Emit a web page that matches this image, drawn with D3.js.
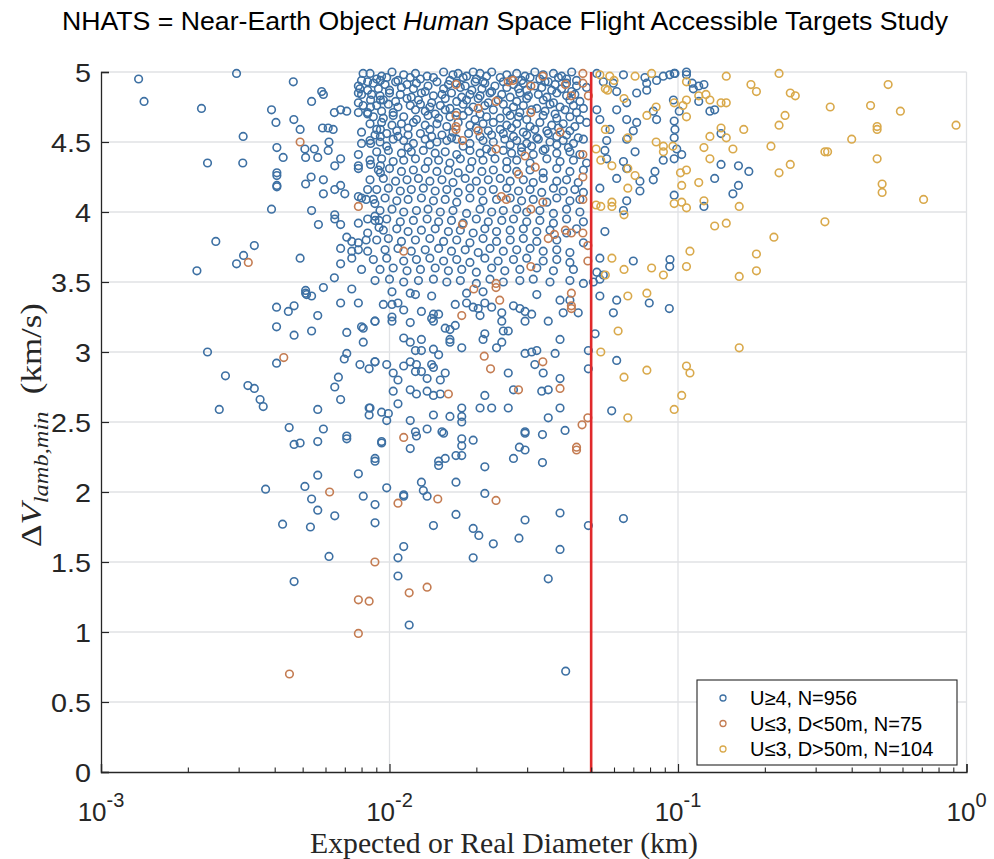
<!DOCTYPE html>
<html>
<head>
<meta charset="utf-8">
<script src="https://cdn.jsdelivr.net/npm/d3@7"></script>
<style>
  body { margin: 0; background: #fff; }
  svg { display: block; }
</style>
</head>
<body>
<svg id="chart" width="994" height="859"></svg>
<script>
// U>=4 targets: [diameter km, dV km/s]
const blue = [
  [0.00135,4.95],[0.00141,4.79],[0.00295,4.99],[0.00223,4.74],[0.00464,4.93],[0.0039,4.73],[0.00404,4.64],[0.00537,4.79],
  [0.00582,4.86],[0.0059,4.84],[0.00466,4.66],[0.0049,4.59],[0.00311,4.54],[0.00234,4.35],[0.0031,4.35],[0.00407,4.46],
  [0.00428,4.39],[0.00407,4.28],[0.00407,4.26],[0.00407,4.19],[0.00407,4.18],[0.0039,4.02],[0.0025,3.79],[0.0034,3.76],
  [0.00312,3.69],[0.00295,3.63],[0.00215,3.58],[0.0049,3.67],[0.00509,4.45],[0.00549,4.45],[0.00512,4.39],[0.00564,4.39],
  [0.00617,4.5],[0.00613,4.44],[0.00586,4.6],[0.00613,4.6],[0.00638,4.59],[0.00644,4.71],[0.00677,4.73],[0.00711,4.72],
  [0.00646,4.33],[0.00677,4.38],[0.00512,4.2],[0.00535,4.25],[0.0059,4.23],[0.0059,4.13],[0.00646,4.16],[0.00677,4.19],
  [0.007,4.13],[0.00537,4.01],[0.00567,3.91],[0.00646,3.98],[0.00646,3.95],[0.00677,3.91],[0.00711,3.82],[0.0074,3.79],
  [0.00677,3.74],[0.00677,3.63],[0.0074,3.72],[0.0074,3.67],[0.00644,3.53],[0.0059,3.46],[0.00512,3.44],[0.00512,3.42],
  [0.0074,3.45],
  [0.0081,4.99],[0.008,4.94],[0.0084,4.93],[0.0078,4.9],[0.0079,4.88],[0.0084,4.87],[0.0078,4.85],[0.008,4.84],
  [0.0086,4.8],[0.0078,4.78],[0.0081,4.76],[0.0086,4.75],[0.0078,4.71],[0.0084,4.71],[0.0084,4.7],[0.0093,4.94],
  [0.0093,4.8],[0.0078,4.41],[0.0078,4.33],[0.0078,4.31],[0.0086,4.34],[0.008,4.57],[0.008,4.49],[0.0086,4.49],
  [0.0093,4.59],[0.0093,4.54],[0.0093,4.33],[0.0093,4.28],[0.0084,4.16],[0.0078,4.11],[0.008,4.1],[0.0083,4.09],
  [0.0089,4.06],[0.0084,3.95],[0.0089,3.97],[0.0092,3.94],[0.0092,3.89],[0.0084,3.85],[0.0083,3.8],[0.0084,3.72],
  [0.008,3.59],[0.0078,3.92],[0.0078,3.78],[0.0078,3.73],
  [0.00856,4.99],[0.00939,4.97],[0.0102,5],[0.0112,4.98],[0.0123,4.99],[0.0135,4.97],[0.0154,5],[0.0166,4.98],
  [0.0173,4.99],[0.0185,4.97],[0.0195,5],[0.0206,4.99],[0.0217,4.97],[0.0226,5],[0.0255,4.98],[0.0276,4.99],
  [0.0295,4.97],[0.0319,5],[0.0341,4.98],[0.037,4.99],[0.0395,4.97],[0.0428,5],[0.0523,4.99],[0.0647,4.98],
  [0.0768,4.96],[0.0889,4.97],[0.0976,4.99],
  [0.00903,4.95],[0.00978,4.96],[0.0107,4.94],[0.0118,4.96],[0.0128,4.95],[0.0142,4.96],[0.0162,4.94],[0.018,4.96],
  [0.02,4.95],[0.0211,4.93],[0.0242,4.96],[0.0265,4.95],[0.0287,4.94],[0.0307,4.96],[0.0332,4.95],[0.0355,4.93],
  [0.0385,4.96],[0.0411,4.95],[0.0445,4.94],
  [0.00879,4.92],[0.00965,4.91],[0.0105,4.93],[0.0115,4.91],[0.0124,4.92],[0.0136,4.9],[0.0146,4.93],[0.016,4.91],
  [0.0171,4.92],[0.0183,4.9],[0.0198,4.93],[0.0214,4.92],[0.0232,4.9],[0.0248,4.93],[0.0269,4.91],[0.0291,4.92],
  [0.0319,4.9],[0.0346,4.93],[0.0375,4.91],[0.0411,4.92],[0.0445,4.9],[0.0551,4.93],[0.0597,4.92],[0.0779,4.92],
  [0.0843,4.94],
  [0.00915,4.88],[0.01,4.87],[0.011,4.89],[0.0121,4.88],[0.0133,4.86],[0.0154,4.88],[0.0176,4.89],[0.0193,4.87],
  [0.0209,4.88],[0.0226,4.86],[0.0255,4.89],[0.028,4.88],[0.0299,4.87],[0.0337,4.89],[0.0365,4.87],[0.0395,4.88],
  [0.0428,4.86],[0.0482,4.89],
  [0.00867,4.84],[0.00927,4.83],[0.01,4.85],[0.0109,4.84],[0.0119,4.82],[0.0129,4.85],[0.0142,4.83],[0.0152,4.84],
  [0.0164,4.85],[0.0178,4.82],[0.019,4.84],[0.0206,4.83],[0.0223,4.85],[0.0245,4.84],[0.0262,4.82],[0.0283,4.85],
  [0.0303,4.83],[0.0328,4.84],[0.0351,4.82],[0.038,4.85],[0.0411,4.83],[0.0439,4.84],[0.0613,4.86],[0.0719,4.85],
  [0.0779,4.87],
  [0.00952,4.8],[0.0105,4.79],[0.0115,4.81],[0.0126,4.8],[0.014,4.78],[0.0156,4.81],[0.0171,4.79],[0.0185,4.8],
  [0.0203,4.81],[0.022,4.78],[0.0238,4.8],[0.0276,4.79],[0.0299,4.81],[0.0341,4.8],[0.037,4.78],[0.0422,4.8],
  [0.0457,4.79],
  [0.00903,4.76],[0.00991,4.77],[0.0107,4.75],[0.0118,4.76],[0.0128,4.77],[0.0138,4.75],[0.015,4.76],[0.0162,4.74],
  [0.018,4.77],[0.0195,4.75],[0.0214,4.76],[0.0248,4.77],[0.0269,4.75],[0.0291,4.76],[0.0324,4.74],[0.036,4.77],
  [0.039,4.75],[0.0434,4.76],[0.047,4.74],[0.0664,4.78],[0.0964,4.8],
  [0.00939,4.72],[0.0103,4.71],[0.0123,4.73],[0.0133,4.72],[0.0144,4.7],[0.0156,4.73],[0.0171,4.71],[0.0188,4.72],
  [0.0206,4.7],[0.0229,4.73],[0.0255,4.72],[0.0283,4.71],[0.0311,4.73],[0.0346,4.72],[0.0375,4.7],[0.0406,4.73],
  [0.0445,4.71],
  [0.00879,4.68],[0.00952,4.67],[0.0103,4.69],[0.0112,4.68],[0.0124,4.66],[0.0136,4.69],[0.0148,4.67],[0.0162,4.68],
  [0.018,4.69],[0.0198,4.66],[0.0217,4.68],[0.0242,4.67],[0.0262,4.69],[0.028,4.68],[0.0299,4.66],[0.0341,4.69],
  [0.038,4.67],[0.0422,4.68],[0.0457,4.66],[0.0523,4.73],[0.0613,4.73],[0.0821,4.72],
  [0.00856,4.63],[0.00939,4.64],[0.0102,4.62],[0.011,4.63],[0.0121,4.64],[0.0133,4.62],[0.0146,4.63],[0.0158,4.61],
  [0.0173,4.64],[0.019,4.62],[0.0211,4.63],[0.0229,4.64],[0.0255,4.62],[0.0276,4.63],[0.0307,4.61],[0.0332,4.64],
  [0.0365,4.62],[0.04,4.63],[0.0439,4.61],[0.0482,4.64],[0.0536,4.66],[0.0664,4.66],[0.0719,4.64],[0.0843,4.66],
  [0.00903,4.59],[0.0106,4.58],[0.0116,4.6],[0.0138,4.59],[0.0166,4.57],[0.02,4.6],[0.022,4.58],[0.0242,4.59],
  [0.0265,4.6],[0.0291,4.57],[0.0319,4.59],[0.0351,4.58],[0.0385,4.6],[0.0422,4.58],
  [0.00891,4.55],[0.00978,4.56],[0.0107,4.54],[0.0116,4.55],[0.0128,4.56],[0.014,4.54],[0.0152,4.55],[0.0164,4.53],
  [0.0188,4.56],[0.0206,4.54],[0.0226,4.55],[0.0248,4.56],[0.0269,4.54],[0.0299,4.55],[0.0324,4.53],[0.0355,4.56],
  [0.038,4.54],[0.0411,4.55],[0.0451,4.53],[0.0581,4.59],[0.07,4.58],[0.0976,4.59],
  [0.00856,4.51],[0.00927,4.5],[0.0103,4.52],[0.0112,4.51],[0.0121,4.49],[0.0133,4.52],[0.0146,4.5],[0.0158,4.51],
  [0.0171,4.52],[0.019,4.49],[0.0211,4.51],[0.0229,4.5],[0.0251,4.52],[0.0276,4.51],[0.0299,4.49],[0.0328,4.52],
  [0.036,4.5],[0.04,4.51],[0.0434,4.49],[0.047,4.52],[0.0566,4.51],[0.0664,4.52],
  [0.00978,4.47],[0.0116,4.46],[0.0138,4.48],[0.018,4.47],[0.0217,4.45],[0.0262,4.48],[0.0287,4.46],[0.0311,4.47],
  [0.0346,4.45],[0.038,4.48],[0.0417,4.46],
  [0.00903,4.43],[0.00991,4.44],[0.011,4.42],[0.0119,4.43],[0.0131,4.44],[0.0144,4.42],[0.0156,4.43],[0.0171,4.41],
  [0.019,4.44],[0.0206,4.42],[0.0226,4.43],[0.0248,4.44],[0.0265,4.42],[0.0287,4.43],[0.0315,4.41],[0.0341,4.44],
  [0.038,4.42],[0.0422,4.43],[0.0457,4.41],[0.0558,4.44],[0.071,4.43],[0.099,4.45],
  [0.00856,4.37],[0.00939,4.38],[0.0103,4.36],[0.0112,4.37],[0.0123,4.38],[0.0136,4.36],[0.0148,4.37],[0.0162,4.35],
  [0.0176,4.38],[0.0193,4.36],[0.0211,4.37],[0.0232,4.38],[0.0255,4.36],[0.0276,4.37],[0.0307,4.35],[0.0351,4.38],
  [0.039,4.36],[0.0434,4.37],[0.0482,4.35],[0.0566,4.38],[0.0647,4.36],[0.0889,4.37],
  [0.00915,4.3],[0.01,4.31],[0.011,4.29],[0.0121,4.3],[0.0133,4.31],[0.0146,4.29],[0.016,4.3],[0.0173,4.28],
  [0.019,4.31],[0.0209,4.29],[0.0229,4.3],[0.0255,4.31],[0.0276,4.29],[0.0307,4.3],[0.0341,4.28],[0.038,4.31],
  [0.0422,4.29],[0.047,4.3],[0.0664,4.31],[0.0832,4.29],
  [0.00856,4.23],[0.00952,4.24],[0.0105,4.22],[0.0115,4.23],[0.0126,4.24],[0.0138,4.22],[0.0152,4.23],[0.0166,4.21],
  [0.0183,4.24],[0.02,4.22],[0.022,4.23],[0.0242,4.24],[0.0262,4.22],[0.0291,4.23],[0.0315,4.21],[0.0341,4.24],
  [0.038,4.22],[0.0411,4.23],[0.0451,4.21],[0.0613,4.24],[0.0738,4.22],[0.0821,4.23],
  [0.00903,4.16],[0.00991,4.17],[0.0109,4.15],[0.0119,4.16],[0.0131,4.17],[0.0144,4.15],[0.0158,4.16],[0.0173,4.14],
  [0.019,4.17],[0.0209,4.15],[0.0229,4.16],[0.0255,4.17],[0.028,4.15],[0.0307,4.16],[0.0337,4.14],[0.037,4.17],
  [0.04,4.15],[0.0439,4.16],[0.047,4.14],[0.0536,4.17],[0.0738,4.15],
  [0.00879,4.09],[0.00965,4.1],[0.0106,4.08],[0.0116,4.09],[0.0129,4.1],[0.0142,4.08],[0.0156,4.09],[0.0171,4.07],
  [0.019,4.1],[0.0211,4.08],[0.0235,4.09],[0.0262,4.1],[0.0287,4.08],[0.0315,4.09],[0.0351,4.07],[0.038,4.1],
  [0.0422,4.08],[0.0457,4.09],[0.0664,4.08],
  [0.00927,4.01],[0.0102,4.02],[0.0112,4],[0.0124,4.01],[0.0136,4.02],[0.015,4],[0.0166,4.01],[0.0185,3.99],
  [0.0206,4.02],[0.0226,4],[0.0248,4.01],[0.0276,4.02],[0.0299,4],[0.0332,4.01],[0.037,3.99],[0.0411,4.02],
  [0.0457,4],[0.0647,4.01],
  [0.00891,3.94],[0.00978,3.95],[0.0109,3.93],[0.0121,3.94],[0.0135,3.95],[0.0148,3.93],[0.0164,3.94],[0.018,3.92],
  [0.02,3.95],[0.022,3.93],[0.0245,3.94],[0.0269,3.95],[0.0299,3.93],[0.0332,3.94],[0.037,3.92],[0.0411,3.95],
  [0.047,3.93],
  [0.00952,3.87],[0.0106,3.88],[0.0116,3.86],[0.0129,3.87],[0.0144,3.88],[0.016,3.86],[0.0176,3.87],[0.0195,3.85],
  [0.0214,3.88],[0.0235,3.86],[0.0262,3.87],[0.0291,3.88],[0.0324,3.86],[0.036,3.87],[0.0411,3.85],[0.0445,3.88],
  [0.0558,3.86],
  [0.00903,3.8],[0.00991,3.81],[0.011,3.79],[0.0123,3.8],[0.0138,3.81],[0.0154,3.79],[0.0171,3.8],[0.019,3.78],
  [0.0211,3.81],[0.0235,3.79],[0.0262,3.8],[0.0291,3.81],[0.0324,3.79],[0.038,3.8],[0.047,3.78],
  [0.00965,3.73],[0.0107,3.74],[0.0119,3.72],[0.0133,3.73],[0.0148,3.74],[0.0164,3.72],[0.0183,3.73],[0.0203,3.71],
  [0.0223,3.74],[0.0248,3.72],[0.0276,3.73],[0.0307,3.74],[0.0341,3.72],[0.038,3.73],[0.0422,3.71],
  [0.00879,3.66],[0.00978,3.67],[0.0112,3.65],[0.0124,3.66],[0.0138,3.67],[0.0154,3.65],[0.0171,3.66],[0.019,3.64],
  [0.0214,3.67],[0.0238,3.65],[0.0269,3.66],[0.0299,3.67],[0.0341,3.65],[0.038,3.66],[0.0422,3.64],[0.0536,3.67],
  [0.07,3.65],[0.0938,3.66],
  [0.00927,3.59],[0.0103,3.6],[0.0115,3.58],[0.0128,3.59],[0.0144,3.6],[0.016,3.58],[0.0178,3.59],[0.02,3.57],
  [0.0226,3.6],[0.0251,3.58],[0.0283,3.59],[0.0324,3.6],[0.037,3.58],[0.0434,3.59],[0.0523,3.57],[0.0551,3.55],
  [0.00891,3.51],[0.01,3.52],[0.0112,3.5],[0.0126,3.51],[0.0142,3.52],[0.0158,3.5],[0.0176,3.51],[0.02,3.49],
  [0.0223,3.52],[0.0248,3.5],[0.0283,3.51],[0.0315,3.52],[0.036,3.5],[0.0422,3.51],[0.047,3.49],[0.0509,3.5],
  [0.0536,3.52],
  [0.0102,3.43],[0.0118,3.42],[0.0123,3.41],[0.014,3.4],[0.0185,3.42],[0.0211,3.43],[0.0324,3.41],[0.039,3.37],
  [0.0422,3.37],[0.0536,3.4],[0.0613,3.37],[0.00952,3.34],[0.0102,3.34],[0.0107,3.35],[0.0112,3.3],[0.0129,3.29],
  [0.0142,3.27],[0.0148,3.27],[0.0169,3.34],[0.0185,3.35],[0.0195,3.32],[0.0203,3.31],[0.0214,3.35],[0.0226,3.32],
  [0.0245,3.28],[0.0269,3.33],[0.0283,3.31],[0.0295,3.29],[0.0311,3.27],[0.04,3.28],[0.0451,3.28],[0.0597,3.28],
  [0.0795,3.35],[0.0933,3.31],[0.00891,3.22],[0.0102,3.25],[0.0102,3.22],[0.0118,3.21],[0.014,3.24],[0.0142,3.22],
  [0.0169,3.19],[0.0206,3.26],[0.0245,3.22],[0.0295,3.22],[0.0355,3.22],[0.0156,3.17],[0.0162,3.16],[0.0214,3.13],
  [0.0248,3.15],[0.0258,3.15],[0.0245,3.07],[0.0516,3.13],[0.0112,3.1],[0.0118,3.07],[0.0129,3.09],[0.0162,3.09],
  [0.0162,3.07],[0.0178,3.03],[0.0211,3.09],[0.0235,3.03],[0.039,3.09],[0.0123,3.01],[0.0129,3.01],[0.0142,3.02],
  [0.0148,2.98],[0.0295,2.99],[0.0311,3],[0.0324,3.01],[0.0375,2.99],[0.0489,3.01],[0.00891,2.93],[0.00978,2.91],
  [0.0112,2.9],[0.0118,2.93],[0.0124,2.91],[0.014,2.91],[0.0142,2.89],[0.0156,2.85],[0.0258,2.85],[0.0319,2.91],
  [0.0341,2.85],[0.0489,2.88],[0.0613,2.94],[0.0103,2.85],[0.0107,2.8],[0.0123,2.86],[0.0129,2.86],[0.0135,2.81],
  [0.015,2.8],[0.039,2.81],[0.0103,2.72],[0.0118,2.73],[0.0124,2.7],[0.0135,2.72],[0.0142,2.69],[0.015,2.7],
  [0.0214,2.69],[0.0269,2.73],[0.0337,2.72],[0.0355,2.73],[0.0107,2.63],[0.0178,2.6],[0.0206,2.6],[0.0226,2.6],
  [0.0258,2.6],[0.039,2.6],[0.0589,2.58],[0.00856,2.6],[0.00939,2.57],[0.00991,2.56],[0.0142,2.55],[0.00978,2.51],
  [0.0118,2.51],[0.0162,2.54],[0.0178,2.54],[0.0178,2.5],[0.0355,2.53],[0.0123,2.43],[0.0124,2.4],[0.0135,2.45],
  [0.0152,2.43],[0.0154,2.42],[0.0195,2.37],[0.0178,2.38],[0.0295,2.43],[0.0295,2.42],[0.0339,2.41],[0.0406,2.44],
  [0.00939,2.36],[0.00939,2.35],[0.0118,2.31],[0.0178,2.33],[0.0282,2.32],[0.0295,2.3],[0.00891,2.24],[0.00891,2.22],
  [0.0148,2.22],[0.0148,2.19],[0.0156,2.24],[0.017,2.26],[0.0178,2.26],[0.0214,2.18],[0.0269,2.24],[0.0339,2.21],
  [0.0129,2.07],[0.00978,2.03],[0.0112,1.98],[0.0112,1.97],[0.0131,2.01],[0.0135,1.97],[0.017,2.07],[0.0214,1.99],
  [0.00891,1.91],[0.00891,1.78],[0.0142,1.76],[0.017,1.84],[0.0195,1.74],[0.0295,1.8],[0.039,1.85],[0.0489,1.76],
  [0.0647,1.81],
  [0.0204,1.69],[0.0229,1.63],[0.0281,1.67],[0.039,1.59],[0.0107,1.53],[0.0112,1.61],[0.0195,1.53],[0.0107,1.4],
  [0.0355,1.38],[0.0117,1.05],[0.0408,0.72],
  [0.00516,3.41],[0.00537,3.4],[0.00677,3.35],[0.0078,3.35],[0.00406,3.32],[0.00446,3.29],[0.00467,3.33],[0.00564,3.26],
  [0.00406,3.18],[0.00467,3.12],[0.00537,3.15],[0.00711,3.14],[0.008,3.18],[0.00811,3.17],[0.00811,3.07],[0.0089,3.22],
  [0.00234,3],[0.00406,2.92],[0.00711,2.99],[0.00697,2.95],[0.0079,2.91],[0.0085,2.88],[0.0089,2.93],[0.0027,2.83],
  [0.00323,2.76],[0.0034,2.74],[0.00356,2.66],[0.00365,2.61],[0.00257,2.59],[0.00665,2.82],[0.00646,2.75],[0.00677,2.66],
  [0.00564,2.59],[0.0085,2.6],[0.0085,2.55],[0.00449,2.46],[0.0059,2.45],[0.00467,2.34],[0.0049,2.35],[0.00564,2.36],
  [0.00711,2.4],[0.00711,2.38],[0.00372,2.02],[0.00509,2.04],[0.00564,2.12],[0.0078,2.13],[0.00537,1.95],[0.00564,1.87],
  [0.00646,1.83],[0.00811,1.97],[0.00426,1.77],[0.00532,1.75],[0.00617,1.54],[0.00467,1.36],
  [0.0936,4.98],[0.097,4.99],[0.107,5],[0.107,4.98],[0.112,4.92],[0.118,4.9],[0.123,4.91],[0.113,4.88],
  [0.118,4.79],[0.101,4.72],[0.129,4.72],[0.134,4.73],[0.097,4.65],[0.097,4.53],[0.141,4.56],[0.103,4.41],
  [0.097,4.38],[0.141,4.34],[0.162,4.33],[0.176,4.29],[0.134,4.24],[0.162,4.19],[0.155,4.13],[0.097,4.12],
  [0.123,4.04],[0.0936,3.61]
];

// U<=3, D<50 m
const orange = [
  [0.0049,4.5],[0.00324,3.64],[0.0078,4.04],[0.017,4.91],[0.0258,4.93],[0.0268,4.94],[0.0309,4.9],[0.034,4.97],
  [0.0407,4.91],[0.0468,4.99],[0.0468,4.92],[0.0427,4.83],[0.0489,4.83],[0.0234,4.79],[0.0203,4.74],[0.0309,4.71],
  [0.017,4.69],[0.017,4.61],[0.017,4.59],[0.0203,4.58],[0.039,4.57],[0.0179,4.51],[0.0234,4.45],[0.0295,4.4],
  [0.032,4.32],[0.028,4.27],[0.0468,4.41],[0.0468,4.25],[0.0468,4.09],[0.0244,4.11],[0.0254,4.09],[0.034,4.07],
  [0.0309,4.02],[0.0179,3.91],[0.0355,3.81],[0.0373,3.84],[0.0407,3.87],[0.0427,3.85],[0.0468,3.85],[0.0487,3.76],
  [0.0487,3.65],[0.0112,3.72],[0.0309,3.61],[0.0196,3.45],[0.0234,3.49],[0.0234,3.46],[0.0427,3.42],[0.0427,3.33],
  [0.0427,3.31],[0.0241,3.37],[0.0178,3.26],[0.0213,2.97],[0.0224,2.88],[0.034,2.93],[0.016,2.7],[0.028,2.73],
  [0.039,2.74],[0.0487,2.53],[0.0465,2.48],[0.0112,2.39],[0.0445,2.32],[0.0445,2.3],[0.0107,1.92],[0.0147,1.95],
  [0.0234,1.94],[0.0043,2.96],[0.0062,2],[0.0089,1.5],[0.0078,1.23],[0.0085,1.22],[0.0078,0.99],[0.0045,0.7],
  [0.0117,1.28],[0.0135,1.32]
];

// U<=3, D>50 m
const yellow = [
  [0.0536,4.98],[0.058,4.97],[0.06,4.94],[0.056,4.88],[0.057,4.87],[0.071,4.97],[0.081,4.99],[0.065,4.81],
  [0.097,4.78],[0.078,4.69],[0.084,4.75],[0.056,4.59],[0.067,4.53],[0.084,4.5],[0.089,4.47],[0.096,4.47],
  [0.089,4.43],[0.052,4.45],[0.054,4.37],[0.059,4.33],[0.067,4.31],[0.071,4.26],[0.067,4.17],[0.052,4.05],
  [0.054,4.04],[0.059,4.07],[0.059,4.04],[0.065,3.98],[0.059,3.67],[0.056,3.55],[0.065,3.59],[0.081,3.6],
  [0.089,3.55],[0.078,3.42],[0.067,3.4],[0.107,4.93],[0.147,4.97],[0.224,4.99],[0.179,4.91],[0.187,4.86],
  [0.535,4.91],[0.245,4.85],[0.255,4.83],[0.104,4.76],[0.107,4.8],[0.118,4.83],[0.125,4.84],[0.129,4.8],
  [0.141,4.78],[0.147,4.78],[0.337,4.75],[0.465,4.76],[0.59,4.72],[0.235,4.69],[0.107,4.68],[0.224,4.62],
  [0.141,4.6],[0.169,4.59],[0.49,4.61],[0.49,4.59],[0.92,4.62],[0.129,4.54],[0.147,4.53],[0.4,4.52],
  [0.123,4.46],[0.155,4.45],[0.21,4.47],[0.323,4.43],[0.33,4.43],[0.129,4.38],[0.49,4.38],[0.102,4.28],
  [0.107,4.3],[0.118,4.21],[0.224,4.28],[0.245,4.34],[0.51,4.2],[0.51,4.14],[0.103,4.19],[0.71,4.09],
  [0.097,4.06],[0.103,4.07],[0.107,4.03],[0.123,4.08],[0.163,4.04],[0.323,3.93],[0.134,3.9],[0.147,3.92],
  [0.215,3.82],[0.11,3.72],[0.187,3.7],[0.107,3.61],[0.163,3.54],[0.187,3.58],[0.163,3.03],[0.107,2.9],
  [0.11,2.85],[0.103,2.69],[0.097,2.59],[0.062,3.15],[0.054,3],[0.078,2.87],[0.065,2.82],[0.067,2.53]
];

const yTicks = [0, 0.5, 1, 1.5, 2, 2.5, 3, 3.5, 4, 4.5, 5];
const xTicks = [0.001, 0.01, 0.1, 1];
const seriesNames = ["U\u22654, N=956", "U\u22643, D<50m, N=75", "U\u22643, D>50m, N=104"];
const seriesColors = ["#3d70a3", "#c47c52", "#d9a94b"];
const diameterCut = 0.05;

const svg = d3.select("#chart");
const ink = "#262626";

const x = d3.scaleLog().domain([0.001, 1]).range([101, 966.5]);
const y = d3.scaleLinear().domain([0, 5]).range([772, 72]);

// grid
svg.append("g")
  .selectAll("line")
  .data(yTicks.slice(1))
  .join("line")
  .attr("x1", x(0.001)).attr("x2", x(1))
  .attr("y1", d => y(d)).attr("y2", d => y(d))
  .attr("stroke", "#e0e2e5").attr("stroke-width", 1.3);

svg.append("g")
  .selectAll("line")
  .data(xTicks.slice(1))
  .join("line")
  .attr("x1", d => x(d)).attr("x2", d => x(d))
  .attr("y1", y(0)).attr("y2", y(5))
  .attr("stroke", "#e0e2e5").attr("stroke-width", 1.3);

// points
[blue, orange, yellow].forEach((set, i) => {
  svg.append("g")
    .selectAll("circle")
    .data(set)
    .join("circle")
    .attr("cx", d => x(d[0]))
    .attr("cy", d => y(d[1]))
    .attr("r", 3.8)
    .attr("fill", "none")
    .attr("stroke", seriesColors[i])
    .attr("stroke-width", 1.6);
});

// 50 m cut
svg.append("line")
  .attr("x1", x(diameterCut)).attr("x2", x(diameterCut))
  .attr("y1", y(0)).attr("y2", y(5))
  .attr("stroke", "#e0292b").attr("stroke-width", 2.6);

// y axis
const yAxis = svg.append("g")
  .attr("transform", `translate(${x(0.001)},0)`)
  .call(d3.axisLeft(y).tickValues(yTicks).tickSize(-8).tickPadding(0).tickFormat(d3.format("~g")));
yAxis.attr("font-family", null).attr("font-size", null);
yAxis.select(".domain").attr("stroke", ink).attr("stroke-width", 1.3);
yAxis.selectAll(".tick line").attr("stroke", ink).attr("stroke-width", 1.2);
yAxis.selectAll(".tick text")
  .attr("x", 0).attr("dy", "0.36em")
  .attr("transform", "translate(-10,0) scale(1.15,1)")
  .attr("fill", ink)
  .style("font", "25px 'Liberation Sans', Arial, sans-serif");

// x axis, major and minor ticks
const minor = [];
xTicks.slice(0, -1).forEach(t => d3.range(2, 10).forEach(k => minor.push(t * k)));

const xAxis = svg.append("g")
  .attr("transform", `translate(0,${y(0)})`)
  .call(d3.axisBottom(x).tickValues(xTicks).tickSize(-8).tickFormat(""));
xAxis.select(".domain").attr("stroke", ink).attr("stroke-width", 1.3);
xAxis.selectAll(".tick line").attr("stroke", ink).attr("stroke-width", 1.2);

const xMinor = svg.append("g")
  .attr("transform", `translate(0,${y(0)})`)
  .call(d3.axisBottom(x).tickValues(minor).tickSize(-4.5).tickFormat(""));
xMinor.select(".domain").remove();
xMinor.selectAll(".tick line").attr("stroke", ink).attr("stroke-width", 1.1);

const xLab = svg.append("g")
  .selectAll("text")
  .data(xTicks)
  .join("text")
  .attr("x", d => x(d))
  .attr("y", 821)
  .attr("text-anchor", "middle")
  .attr("fill", ink)
  .style("font", "26px 'Liberation Sans', Arial, sans-serif");
xLab.append("tspan").text("10");
xLab.append("tspan")
  .attr("dy", -14)
  .style("font-size", "20px")
  .text(d => String(Math.round(Math.log10(d))));

// axis titles
svg.append("text")
  .attr("x", 504).attr("y", 853)
  .attr("text-anchor", "middle")
  .attr("textLength", 388).attr("lengthAdjust", "spacingAndGlyphs")
  .attr("fill", ink)
  .style("font", "29px 'Liberation Serif', 'Times New Roman', serif")
  .text("Expected or Real Diameter (km)");

const yTitle = svg.append("text")
  .attr("transform", "translate(41,425) rotate(-90)")
  .attr("text-anchor", "middle")
  .attr("textLength", 244).attr("lengthAdjust", "spacingAndGlyphs")
  .attr("fill", ink)
  .style("font", "30px 'Liberation Serif', 'Times New Roman', serif");
yTitle.append("tspan").text("\u0394");
yTitle.append("tspan").style("font-style", "italic").text("V");
yTitle.append("tspan").style("font-style", "italic").style("font-size", "21px").attr("dy", 7).text("lamb,min");
yTitle.append("tspan").attr("dy", -7).text("\u2002(km/s)");

// title
const title = svg.append("text")
  .attr("x", 505).attr("y", 30)
  .attr("text-anchor", "middle")
  .attr("textLength", 886).attr("lengthAdjust", "spacingAndGlyphs")
  .attr("fill", "#000")
  .style("font", "26px 'Liberation Sans', Arial, sans-serif");
title.append("tspan").text("NHATS = Near-Earth Object ");
title.append("tspan").style("font-style", "italic").text("Human");
title.append("tspan").text(" Space Flight Accessible Targets Study");

// legend
const legend = svg.append("g").attr("transform", "translate(697,680)");
legend.append("rect")
  .attr("width", 260).attr("height", 85)
  .attr("fill", "#fff").attr("stroke", ink).attr("stroke-width", 1.1);
const rows = legend.selectAll("g.row")
  .data(seriesNames)
  .join("g")
  .attr("class", "row")
  .attr("transform", (d, i) => `translate(0,${18 + i * 25.5})`);
rows.append("circle")
  .attr("cx", 26).attr("r", 3)
  .attr("fill", "none")
  .attr("stroke", (d, i) => seriesColors[i])
  .attr("stroke-width", 1.3);
rows.append("text")
  .attr("x", 53).attr("dy", "0.36em")
  .attr("fill", "#000")
  .style("font", "20px 'Liberation Sans', Arial, sans-serif")
  .text(d => d);
</script>
</body>
</html>
